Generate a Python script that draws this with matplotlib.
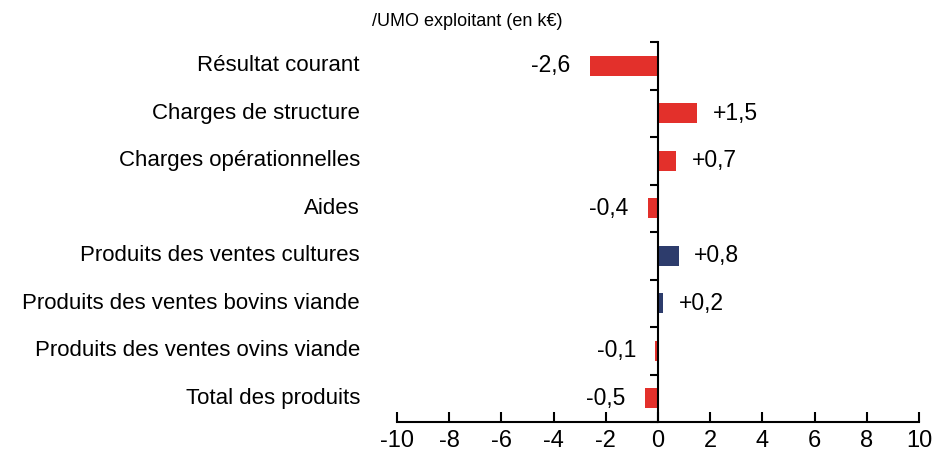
import matplotlib
matplotlib.use("Agg")
import matplotlib.pyplot as plt
import matplotlib.transforms as mtransforms
from matplotlib.ticker import FixedLocator

categories = ["Résultat courant", "Charges de structure", "Charges opérationnelles", "Aides",
              "Produits des ventes cultures", "Produits des ventes bovins viande",
              "Produits des ventes ovins viande", "Total des produits"]
values = [-2.6, 1.5, 0.7, -0.4, 0.8, 0.2, -0.1, -0.5]
colors = ["#E3302B", "#E3302B", "#E3302B", "#E3302B", "#2D3C6C", "#2D3C6C", "#E3302B", "#E3302B"]
xticks = [-10, -8, -6, -4, -2, 0, 2, 4, 6, 8, 10]
title = "/UMO exploitant (en k€)"

plt.rcParams['font.family'] = ['Liberation Sans', 'DejaVu Sans']

fig = plt.figure(figsize=(9.38, 4.62), dpi=100)
ax = fig.add_axes([397/938, 1-422/462, 522/938, 380/462])

y = list(range(len(categories)))
ax.barh(y, values, height=0.42, color=colors)
ax.set_xlim(-10, 10)
ax.set_ylim(len(categories) - 0.5, -0.5)

for s in ['top', 'right']:
    ax.spines[s].set_visible(False)
ax.spines['left'].set_position(('data', 0))
ax.spines['left'].set_linewidth(1.5)
ax.spines['bottom'].set_linewidth(1.5)

ax.set_xticks(xticks)
ax.set_xticklabels([str(t) for t in xticks], fontsize=17)
ax.tick_params(axis='x', direction='in', length=7, width=1.5, pad=6)

ax.yaxis.set_major_locator(FixedLocator([i - 0.5 for i in range(len(categories) + 1)]))
ax.set_yticklabels([])
ax.tick_params(axis='y', direction='out', length=6, width=1.5)

trans = mtransforms.blended_transform_factory(ax.transAxes, ax.transData)
for yi, c in zip(y, categories):
    ax.text(-0.071, yi, c, transform=trans, ha='right', va='center', fontsize=16)

for yi, v in zip(y, values):
    lab = ("+" if v > 0 else "") + f"{v:.1f}".replace(".", ",")
    if v < 0:
        ax.annotate(lab, (v, yi), xytext=(-14, 0), textcoords='offset points',
                    ha='right', va='center', fontsize=16.5)
    else:
        ax.annotate(lab, (v, yi), xytext=(11, 0), textcoords='offset points',
                    ha='left', va='center', fontsize=16.5)

fig.text(372/938, 1-21/462, title, ha='left', va='center', fontsize=13)

fig.savefig("out.png", dpi=100)
